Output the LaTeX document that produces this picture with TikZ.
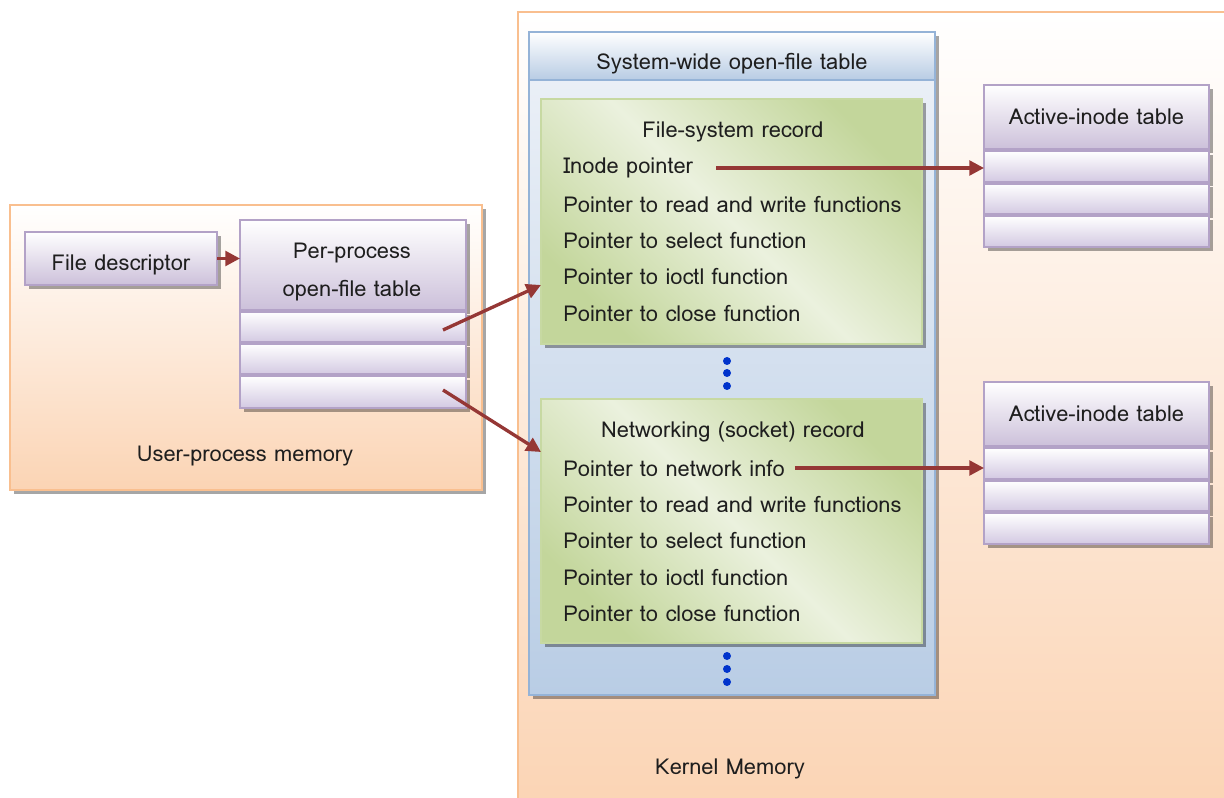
\documentclass[tikz,border=0pt]{standalone}
\usepackage{fontspec}
\setmainfont{Loma}
\usetikzlibrary{shadows,arrows.meta,calc}

\definecolor{oborder}{HTML}{F9BF8F}
\definecolor{opeach}{HTML}{FBD4B4}
\definecolor{pborder}{HTML}{B3A2C7}
\definecolor{plav}{HTML}{CCC0DA}
\definecolor{prow}{HTML}{D3C9E2}
\definecolor{bborder}{HTML}{95B3D7}
\definecolor{bhead}{HTML}{B8CCE4}
\definecolor{btop}{HTML}{EEF2F8}
\definecolor{bbot}{HTML}{B9CDE5}
\definecolor{gdark}{HTML}{C3D69B}
\definecolor{glight}{HTML}{EBF1DE}
\definecolor{gborder}{HTML}{C7D9A2}
\definecolor{arrowred}{HTML}{953735}
\definecolor{dotblue}{HTML}{0033CC}
\definecolor{txt}{HTML}{1E1E1E}

\pgfdeclarehorizontalshading{greenband}{100bp}{%
  color(0bp)=(gdark); color(25bp)=(gdark); color(50bp)=(glight);
  color(75bp)=(gdark); color(100bp)=(gdark)}

\tikzset{
  lbl/.style={font=\fontsize{16.4}{19}\selectfont, text=txt, inner sep=0pt},
  boxshadow/.style={drop shadow={shadow xshift=3pt, shadow yshift=-3pt,
      fill=black, opacity=0.35}},
  membox/.style={draw=oborder, line width=1.8pt, top color=white,
      bottom color=opeach, inner sep=0pt, outer sep=0pt, boxshadow},
  purplehead/.style={draw=pborder, line width=1.8pt, top color=white,
      bottom color=plav, inner sep=0pt, outer sep=0pt, boxshadow},
  purplerow/.style={draw=pborder, line width=1.8pt, top color=white,
      bottom color=prow, inner sep=0pt, outer sep=0pt, boxshadow},
  sysbody/.style={draw=bborder, line width=1.8pt, top color=btop,
      bottom color=bbot, inner sep=0pt, outer sep=0pt, boxshadow},
  syshead/.style={draw=bborder, line width=1.8pt, top color=white,
      bottom color=bhead, inner sep=0pt, outer sep=0pt},
  recbox/.style={draw=gborder, line width=1.8pt, shading=greenband,
      shading angle=45, inner sep=0pt, outer sep=0pt, boxshadow},
  bluedot/.style={circle, fill=dotblue, minimum size=6pt, inner sep=0pt},
  redarrow/.style={draw=arrowred, line width=2.5pt,
      -{Triangle[length=11pt, width=11pt]}},
}

\begin{document}
\begin{tikzpicture}[x=0.75pt, y=-0.75pt]
\useasboundingbox (0,0) rectangle (1224,798);

% memory regions
\node[membox, minimum width=472*0.75pt, minimum height=285*0.75pt] (user) at (246,347.5) {};
\node[lbl] (userlbl) at (245,456) {User-process memory};
\node[membox, minimum width=716*0.75pt, minimum height=800*0.75pt] (kern) at (876,412) {};
\node[lbl] (kernlbl) at (730,769) {Kernel Memory};

% file descriptor and per-process table
\node[purplehead, minimum width=192*0.75pt, minimum height=53*0.75pt] (fd) at (121,258.5) {};
\node[lbl] (fdtxt) at (121,265) {File descriptor};
\node[purplehead, minimum width=226*0.75pt, minimum height=90*0.75pt] (pp) at (353,265) {};
\node[lbl, align=center] (pptxt) at (352,272) {Per-process\\[9pt]open-file table};
\node[purplerow, minimum width=226*0.75pt, minimum height=31*0.75pt] (pp1) at (353,327) {};
\node[purplerow, minimum width=226*0.75pt, minimum height=31*0.75pt] (pp2) at (353,359) {};
\node[purplerow, minimum width=226*0.75pt, minimum height=32*0.75pt] (pp3) at (353,392) {};

% system-wide open-file table
\node[sysbody, minimum width=406*0.75pt, minimum height=663*0.75pt] (sys) at (732,363.5) {};
\node[syshead, minimum width=406*0.75pt, minimum height=48*0.75pt] (syshd) at (732,56) {};
\node[lbl] (systxt) at (732,64) {System-wide open-file table};

% file-system record
\node[recbox, minimum width=381*0.75pt, minimum height=245*0.75pt] (fsrec) at (731.5,221.5) {};
\node[lbl] (fstitle) at (733,132) {File-system record};
\node[lbl, anchor=west] (inode) at (563,168) {Inode pointer};
\node[lbl, anchor=west] (fsrw) at (563,204) {Pointer to read and write functions};
\node[lbl, anchor=west] (fssel) at (563,240) {Pointer to select function};
\node[lbl, anchor=west] (fsio) at (563,276) {Pointer to ioctl function};
\node[lbl, anchor=west] (fscl) at (563,313) {Pointer to close function};

\node[bluedot] (da1) at (727,361) {};
\node[bluedot] (da2) at (727,373) {};
\node[bluedot] (da3) at (727,386) {};

% networking record
\node[recbox, minimum width=381*0.75pt, minimum height=244*0.75pt] (netrec) at (731.5,521) {};
\node[lbl] (nettitle) at (733,432) {Networking (socket) record};
\node[lbl, anchor=west] (netinfo) at (563,468) {Pointer to network info};
\node[lbl, anchor=west] (nrw) at (563,504) {Pointer to read and write functions};
\node[lbl, anchor=west] (nsel) at (563,540) {Pointer to select function};
\node[lbl, anchor=west] (nio) at (563,577) {Pointer to ioctl function};
\node[lbl, anchor=west] (ncl) at (563,613) {Pointer to close function};

\node[bluedot] (db1) at (727,656) {};
\node[bluedot] (db2) at (727,669) {};
\node[bluedot] (db3) at (727,682) {};

% active-inode tables
\node[purplehead, minimum width=225*0.75pt, minimum height=64*0.75pt] (ai1) at (1096.5,117) {};
\node[lbl] (ai1txt) at (1096.5,117) {Active-inode table};
\node[purplerow, minimum width=225*0.75pt, minimum height=31*0.75pt] (ai1r1) at (1096.5,166.5) {};
\node[purplerow, minimum width=225*0.75pt, minimum height=31*0.75pt] (ai1r2) at (1096.5,199) {};
\node[purplerow, minimum width=225*0.75pt, minimum height=31*0.75pt] (ai1r3) at (1096.5,231.5) {};

\node[purplehead, minimum width=225*0.75pt, minimum height=64*0.75pt] (ai2) at (1096.5,414) {};
\node[lbl] (ai2txt) at (1096.5,414) {Active-inode table};
\node[purplerow, minimum width=225*0.75pt, minimum height=31*0.75pt] (ai2r1) at (1096.5,463.5) {};
\node[purplerow, minimum width=225*0.75pt, minimum height=31*0.75pt] (ai2r2) at (1096.5,496) {};
\node[purplerow, minimum width=225*0.75pt, minimum height=31*0.75pt] (ai2r3) at (1096.5,528.5) {};

% connectors
\coordinate (s1) at (443,330);
\coordinate (e1) at (fsrec.west |- 0,285);
\coordinate (s2) at (443,390);
\coordinate (e2) at (netrec.west |- 0,452);
\draw[redarrow] (fd.east) -- (pp.west |- fd.east);
\draw[redarrow] (s1) -- (e1);
\draw[redarrow] (s2) -- (e2);
\draw[redarrow] ([xshift=17pt]inode.east) -- (ai1r1.west |- inode.east);
\draw[redarrow] ([xshift=7.5pt]netinfo.east) -- (ai2r1.west |- netinfo.east);
\end{tikzpicture}
\end{document}
